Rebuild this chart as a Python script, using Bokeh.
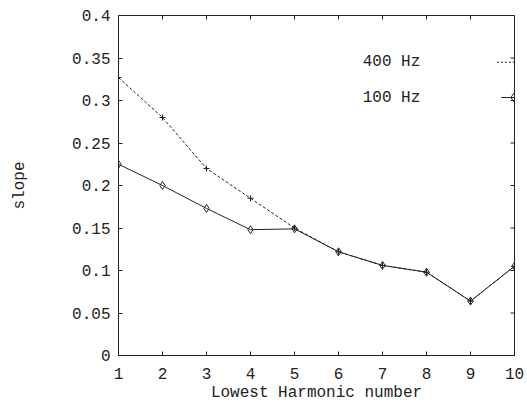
import math
from bokeh.plotting import figure
from bokeh.models import FixedTicker, Range1d
from bokeh.embed import file_html
from bokeh.resources import INLINE
from bokeh.core.properties import value

harmonic = [1, 2, 3, 4, 5, 6, 7, 8, 9, 10]
slope_400 = [0.327, 0.280, 0.220, 0.185, 0.150, 0.122, 0.106, 0.098, 0.064, 0.105]
slope_100 = [0.225, 0.200, 0.173, 0.148, 0.149, 0.122, 0.106, 0.098, 0.064, 0.105]
y_ticks = [0, 0.05, 0.1, 0.15, 0.2, 0.25, 0.3, 0.35, 0.4]
y_tick_labels = ["0", "0.05", "0.1", "0.15", "0.2", "0.25", "0.3", "0.35", "0.4"]
x_ticks = [1, 2, 3, 4, 5, 6, 7, 8, 9, 10]
legend_labels = ["400 Hz", "100 Hz"]

FONT = "Liberation Mono"
INK = "#222222"
X_MIN, X_MAX, Y_MIN, Y_MAX = 1, 10, 0, 0.4

p = figure(width=527, height=412, output_backend="svg", toolbar_location=None,
           x_range=Range1d(X_MIN, X_MAX), y_range=Range1d(Y_MIN, Y_MAX),
           min_border_left=118, min_border_right=13, min_border_top=15, min_border_bottom=57,
           background_fill_color="white", border_fill_color="white")
p.grid.visible = False
p.outline_line_color = INK
p.outline_line_width = 1

for ax in (p.xaxis[0], p.yaxis[0]):
    ax.major_tick_in = 4
    ax.major_tick_out = 0
    ax.minor_tick_line_color = None
    ax.axis_line_color = INK
    ax.major_tick_line_color = INK
    ax.major_label_text_font = FONT
    ax.major_label_text_font_size = "16px"
    ax.major_label_text_color = INK
    ax.axis_label_text_font = FONT
    ax.axis_label_text_font_size = "16px"
    ax.axis_label_text_font_style = "normal"
    ax.axis_label_text_color = INK

p.xaxis.ticker = FixedTicker(ticks=x_ticks)
p.yaxis.ticker = FixedTicker(ticks=y_ticks)
p.yaxis.major_label_overrides = {t: l for t, l in zip(y_ticks, y_tick_labels)}
p.xaxis.axis_label = "Lowest Harmonic number"
p.yaxis.axis_label = "slope"
p.xaxis.major_label_standoff = 12
p.yaxis.major_label_standoff = 8
p.xaxis.axis_label_standoff = 2
p.yaxis.axis_label_standoff = 40

# inner ticks on the top and right frame edges (half of each dash is clipped)
p.scatter(x_ticks, [Y_MAX] * len(x_ticks), marker="dash", angle=math.pi / 2, size=8,
          line_color=INK, line_width=1)
p.scatter([X_MAX] * len(y_ticks), y_ticks, marker="dash", size=8,
          line_color=INK, line_width=1)

# 400 Hz: dashed line with plus markers
p.line(harmonic, slope_400, line_color=INK, line_width=1, line_dash="3 2")
p.scatter(harmonic, slope_400, marker="cross", size=6, line_color=INK, line_width=1)
# 100 Hz: solid line with diamond markers
p.line(harmonic, slope_100, line_color=INK, line_width=1)
p.scatter(harmonic, slope_100, marker="diamond", size=8, line_color=INK,
          fill_color=None, line_width=1)

# legend (labels left, sample right, as in the reference)
leg_x = 6.55
leg_y = [0.345, 0.3035]
p.text([leg_x, leg_x], leg_y, text=legend_labels, text_font=value(FONT),
       text_font_size="16px", text_color=INK, text_baseline="middle", text_align="left")
p.line([9.6, 10.0], [leg_y[0], leg_y[0]], line_color=INK, line_width=1, line_dash="2 2")
p.line([9.7, 10.0], [leg_y[1], leg_y[1]], line_color=INK, line_width=1)
p.scatter([9.98], [leg_y[1]], marker="diamond", size=8, line_color=INK,
          fill_color=None, line_width=1)

open("out.html", "w").write(file_html(p, INLINE))
